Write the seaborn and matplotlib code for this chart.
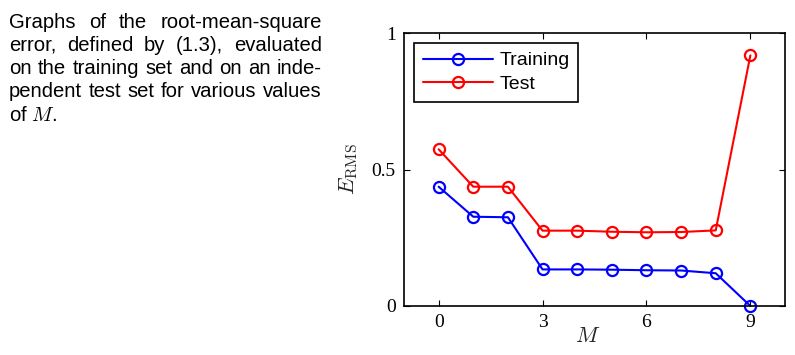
import matplotlib
matplotlib.use("Agg")
import matplotlib.pyplot as plt
import seaborn as sns
import pandas as pd

# values
orders = [0, 1, 2, 3, 4, 5, 6, 7, 8, 9]
train_rms = [0.437, 0.327, 0.325, 0.134, 0.134, 0.133, 0.131, 0.130, 0.120, 0.0]
test_rms = [0.574, 0.437, 0.437, 0.276, 0.276, 0.272, 0.270, 0.271, 0.277, 0.918]
x_ticks = [0, 3, 6, 9]
y_ticks = [0, 0.5, 1]
y_tick_labels = ["0", "0.5", "1"]

caption_lines = [
    "Graphs of the root-mean-square",
    "error, defined by (1.3), evaluated",
    "on the training set and on an inde-",
    "pendent test set for various values",
    "of $M$.",
]

sns.set_style("ticks")
plt.rcParams["mathtext.fontset"] = "cm"
plt.rcParams["font.family"] = ["Liberation Sans", "DejaVu Sans"]
plt.rcParams["text.color"] = "black"

W, H = 795, 355
fig = plt.figure(figsize=(W / 100, H / 100), dpi=100)
ax = fig.add_axes([404 / W, 1 - 306 / H, 381 / W, 273 / H])

df = pd.DataFrame({"M": orders, "train": train_rms, "test": test_rms})
sns.lineplot(data=df, x="M", y="train", ax=ax, color="blue", lw=1.5,
             marker="o", ms=8, mfc="none", mec="blue", mew=1.6, label="Training")
sns.lineplot(data=df, x="M", y="test", ax=ax, color="red", lw=1.5,
             marker="o", ms=8, mfc="none", mec="red", mew=1.6, label="Test")
for ln in ax.lines:
    ln.set_clip_on(False)

ax.set_xlim(-1, 10)
ax.set_ylim(0, 1)
ax.set_xticks(x_ticks)
ax.set_yticks(y_ticks)
ax.set_yticklabels(y_tick_labels)
ax.tick_params(direction="in", length=4, width=0.8, top=True, right=True,
               labelsize=14, pad=6, colors="black")
for lab in ax.get_xticklabels() + ax.get_yticklabels():
    lab.set_family("Liberation Serif")
for sp in ax.spines.values():
    sp.set_visible(True)
    sp.set_linewidth(1.2)
    sp.set_color("black")

ax.set_xlabel("$M$", fontsize=16)
ax.set_ylabel(r"$E_{\rm RMS}$", fontsize=16)
ax.xaxis.set_label_coords(0.483, -0.075)
ax.yaxis.set_label_coords(-0.115, 0.5)

leg = ax.legend(loc="upper left", bbox_to_anchor=(0.026, 0.963), fontsize=14,
                frameon=True, fancybox=False, framealpha=1, edgecolor="black",
                handlelength=3.6, borderpad=0.45, labelspacing=0.3,
                handletextpad=0.35, borderaxespad=0)
leg.get_frame().set_linewidth(1.2)

# justified caption on the left
renderer = fig.canvas.get_renderer()
x0, x1 = 9, 322
baselines = [27.5, 50.8, 74.1, 97.4, 120.7]
fs = 14.6
for i, line in enumerate(caption_lines):
    y = 1 - baselines[i] / H
    words = line.split(" ")
    if i == len(caption_lines) - 1:
        fig.text(x0 / W, y, line, fontsize=fs, va="baseline", ha="left")
        continue
    texts = [fig.text(0, y, w, fontsize=fs, va="baseline", ha="left") for w in words]
    widths = [t.get_window_extent(renderer).width for t in texts]
    gap = (x1 - x0 - sum(widths)) / (len(words) - 1)
    xp = x0
    for t, w in zip(texts, widths):
        t.set_x(xp / W)
        xp += w + gap

fig.savefig("out.png", dpi=100)
